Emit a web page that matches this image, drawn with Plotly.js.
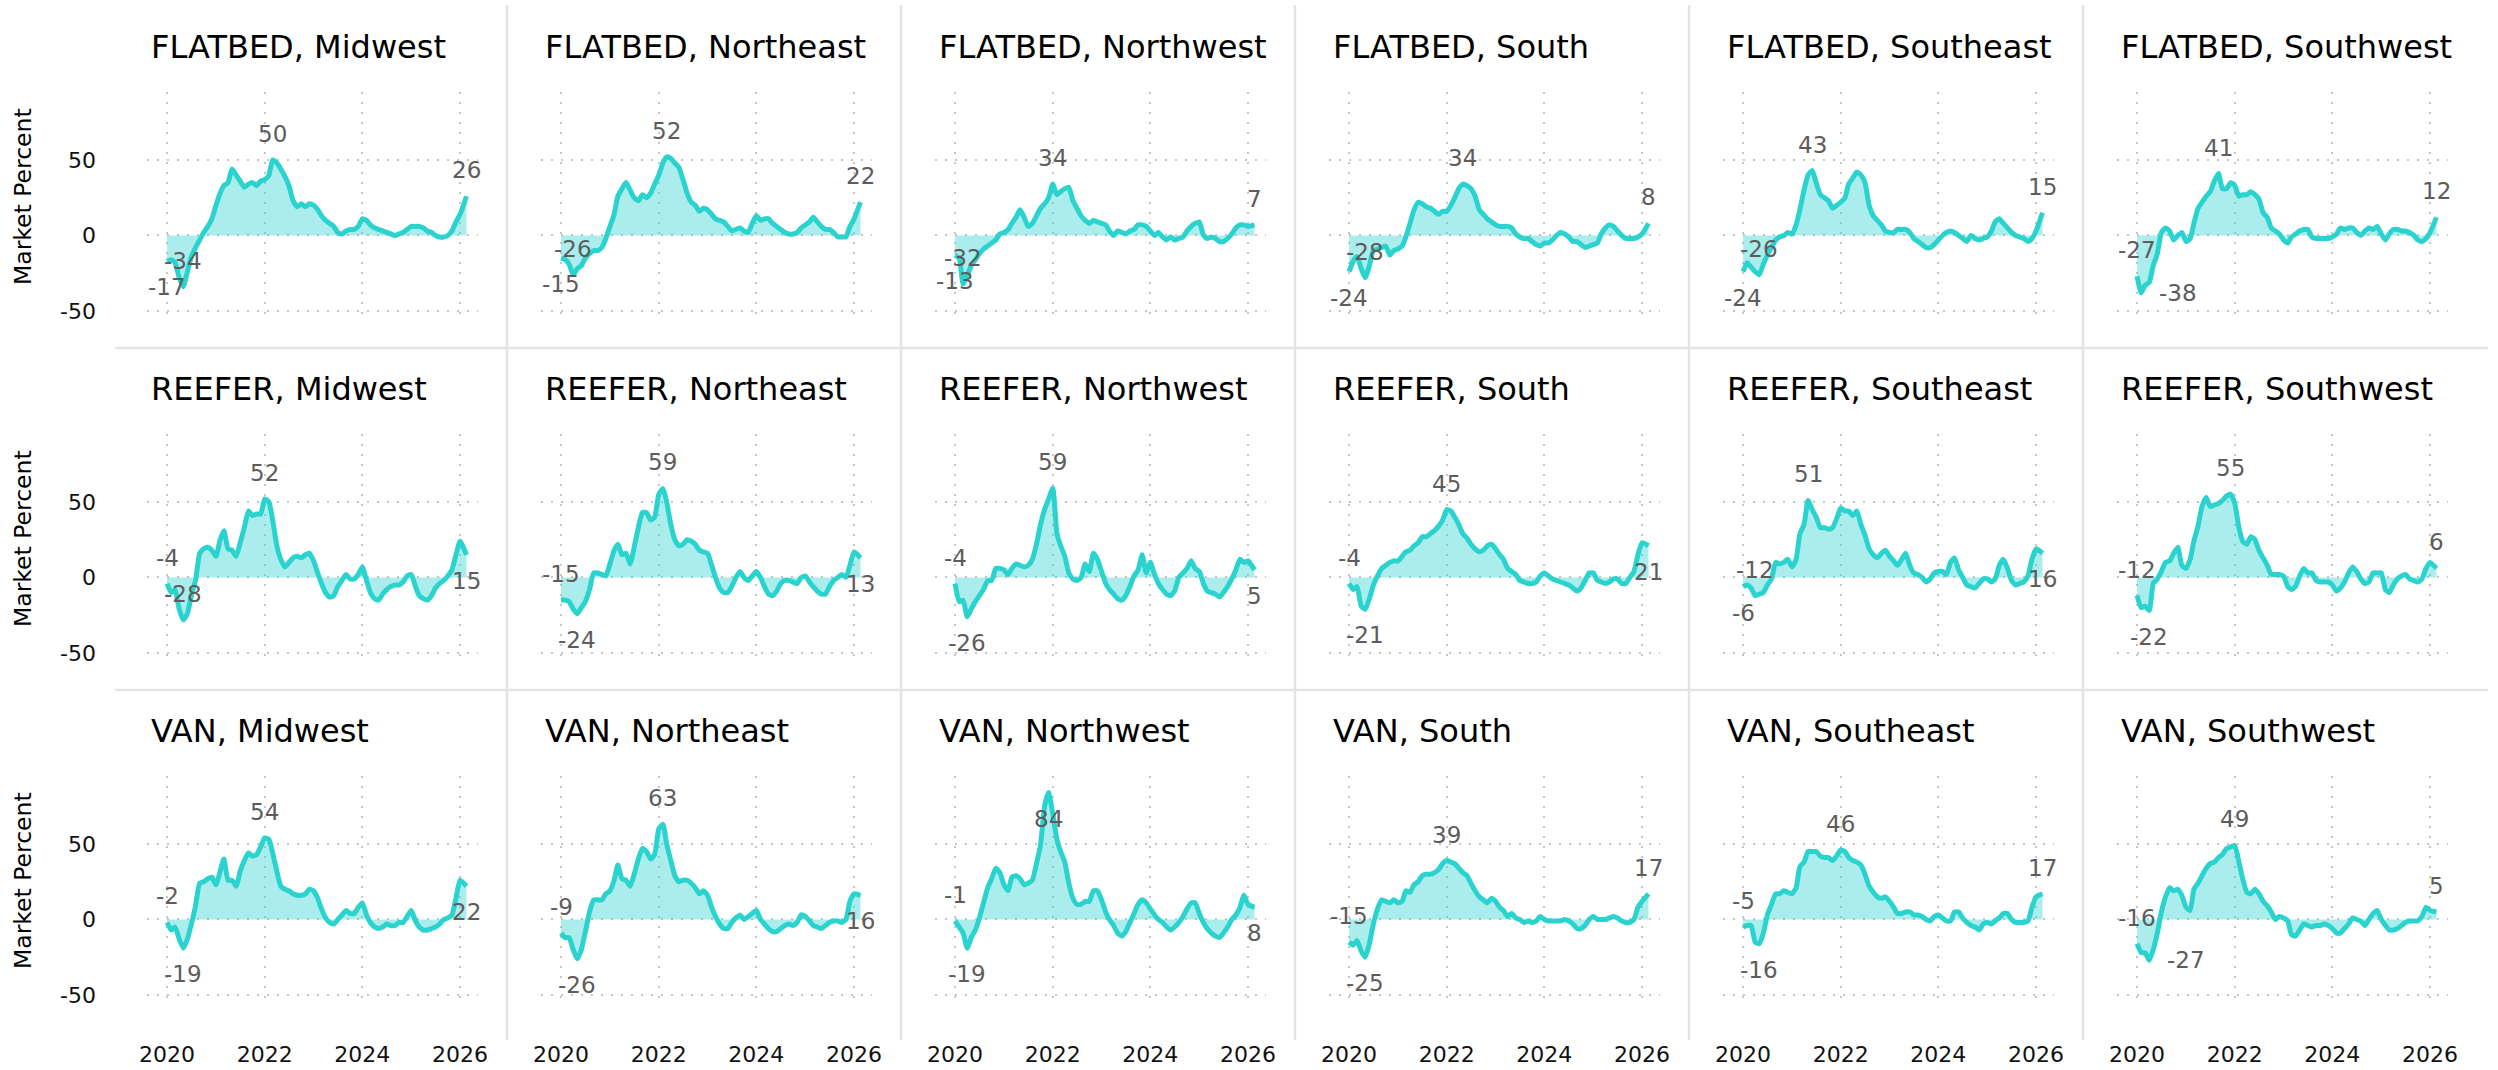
<!DOCTYPE html>
<html>
<head>
<meta charset="utf-8">
<script src="https://cdn.plot.ly/plotly-3.0.1.min.js"></script>
<style>
html,body{margin:0;padding:0;background:#ffffff;}
#chart{width:2498px;height:1070px;}
</style>
</head>
<body>
<div id="chart"></div>
<script>
// ---------------- DATA ----------------
const TRAILERS = ['FLATBED', 'REEFER', 'VAN'];
const REGIONS = ['Midwest', 'Northeast', 'Northwest', 'South', 'Southeast', 'Southwest'];
const X_TICK_VALUES = ['2020-01-01', '2022-01-01', '2024-01-01', '2026-01-01'];
const X_TICK_LABELS = ['2020', '2022', '2024', '2026'];
const Y_TICK_VALUES = [-50, 0, 50];
const Y_TICK_LABELS = ['-50', '0', '50'];
const Y_TITLE = 'Market Percent';
const FIRST_MONTH = '2020-01';
const MONTH_COUNT = 73;           // Jan 2020 .. Jan 2026, monthly
const LAST_DATE = '2026-02-18';   // latest observation

const FLATBED_MIDWEST = [-17,-16,-18,-28,-34,-24,-14,-8,-3,2, 6,11,20,28,33,35,44,40,36,32, 34,35,33,36,37,40,50,48,44,39, 33,23,19,21,19,21,20,17,13,10, 8,6,2,1,3,4,4,6,11,10, 7,5,4,3,2,1,0,1,2,4, 6,6,6,5,3,2,0,-1,-1,0, 3,9,14, 26];
const FLATBED_NORTHEAST = [-15,-16,-19,-26,-22,-20,-15,-12,-10,-10, -8,-2,6,14,26,31,35,30,25,23, 27,25,28,34,40,48,52,51,48,45, 37,28,22,20,16,18,17,14,11,10, 9,6,3,4,5,3,2,8,13,10, 11,11,8,6,4,2,1,1,2,5, 7,9,12,9,6,4,4,2,-1,-1, -1,6,11, 22];
const FLATBED_NORTHWEST = [-13,-15,-32,-26,-20,-16,-12,-9,-7,-5, -3,1,2,4,8,12,17,12,6,8, 13,18,21,25,34,27,29,31,32,23, 18,13,10,8,10,9,8,7,3,0, 3,2,1,3,4,7,7,6,3,0, 2,-1,-3,-1,-3,-2,-1,3,6,8, 9,0,-2,-1,-2,-4,-4,-2,1,5, 7,7,6, 7];
const FLATBED_SOUTH = [-24,-17,-14,-22,-28,-20,-10,-9,-8,-7, -13,-10,-9,-7,-1,8,17,22,21,19, 18,16,14,16,16,20,25,31,34,33, 31,26,17,14,11,9,7,6,6,6, 5,1,-1,-2,-2,-4,-6,-7,-5,-5, -3,0,2,1,-1,-4,-4,-6,-8,-7, -6,-5,1,5,7,6,3,0,-2,-2, -2,-1,1, 8];
const FLATBED_SOUTHEAST = [-24,-18,-21,-24,-26,-19,-13,-8,-3,-1, 0,2,1,7,17,30,40,43,35,27, 25,23,18,20,22,25,34,38,42,40, 35,20,13,10,7,3,2,2,4,4, 4,2,-2,-4,-6,-8,-8,-6,-3,0, 2,3,2,0,-2,-4,0,-2,-3,-2, -1,3,9,11,8,5,2,0,-1,-2, -4,-2,3, 15];
const FLATBED_SOUTHWEST = [-27,-38,-33,-31,-20,-12,2,5,3,-3, 0,2,-4,-2,8,18,22,26,29,36, 41,31,31,35,33,26,27,27,29,27, 24,15,12,5,3,1,-3,-5,-1,1, 3,4,4,-1,-2,-2,-2,-2,-1,1, 5,4,5,5,2,0,3,5,4,6, 1,-3,1,4,4,3,3,2,0,-3, -4,-2,2, 12];

const REEFER_MIDWEST = [-4,-10,-8,-21,-28,-24,-12,-2,16,19, 20,18,14,25,31,19,18,14,23,33, 44,41,42,42,52,50,38,21,12,7, 10,13,14,13,15,16,11,3,-4,-10, -13,-12,-6,-2,2,-1,-1,2,7,-2, -10,-14,-15,-11,-8,-6,-5,-5,-3,1, 2,-6,-12,-14,-15,-12,-7,-4,-2,1, 5,15,24, 15];
const REEFER_NORTHEAST = [-15,-15,-16,-21,-24,-20,-16,-8,3,3, 2,1,9,18,22,15,16,9,20,33, 43,43,38,40,55,59,50,35,25,21, 22,25,24,22,18,17,16,8,0,-7, -10,-10,-6,0,4,0,-2,1,4,0, -6,-11,-12,-9,-4,-2,-2,-3,-4,0, 1,-3,-6,-9,-11,-11,-6,-2,0,2, 0,8,17, 13];
const REEFER_NORTHWEST = [-4,-16,-15,-26,-21,-16,-12,-8,-2,-2, 6,6,5,2,6,9,8,7,8,12, 22,35,45,52,59,29,21,14,3,-1, -2,0,9,4,16,12,4,-4,-8,-11, -14,-15,-12,-6,1,5,15,3,10,2, -4,-8,-11,-12,-9,0,3,6,11,6, 4,-4,-9,-10,-11,-13,-10,-6,-1,5, 12,10,11, 5];
const REEFER_SOUTH = [-4,-8,-6,-19,-21,-14,-5,1,6,8, 10,11,11,14,17,18,21,23,27,27, 29,31,34,38,45,44,40,35,29,26, 22,19,17,18,21,22,19,15,12,6, 4,2,-2,-3,-4,-4,-3,1,3,1, -1,-2,-3,-4,-5,-7,-9,-7,-2,3, 3,-2,-3,-4,-3,-1,-1,-4,-4,0, 4,15,23, 21];
const REEFER_SOUTHEAST = [-6,-5,-7,-12,-11,-10,-5,-1,10,9, 10,12,7,12,29,35,51,45,40,33, 33,32,33,39,46,44,44,41,44,35, 28,19,15,13,16,18,14,11,8,12, 16,8,3,2,0,-3,-1,3,4,4, 2,10,13,5,0,-5,-6,-7,-4,-1, -1,-3,-1,8,12,6,-2,-5,-4,-3, 1,12,19, 16];
const REEFER_SOUTHWEST = [-12,-20,-19,-22,-4,-1,4,10,11,16, 20,8,6,12,24,34,47,53,47,48, 49,51,54,55,49,33,24,22,27,25, 18,13,8,2,2,2,1,-6,-8,-6, 1,6,3,3,-2,-3,-3,-3,-5,-9, -7,-3,3,7,4,-1,-4,-3,3,3, 3,-8,-10,-5,-1,1,2,-1,-2,-3, -1,6,10, 6];

const VAN_MIDWEST = [-2,-7,-5,-13,-19,-13,-3,9,24,25, 27,28,23,32,40,26,26,22,32,39, 44,42,43,48,54,53,44,32,22,20, 19,17,16,16,17,20,19,14,7,1, -2,-3,0,3,6,4,4,8,11,3, -2,-5,-6,-5,-3,-4,-4,-2,-2,2, 6,-1,-5,-7,-7,-6,-5,-3,0,1, 3,14,26, 22];
const VAN_NORTHEAST = [-9,-12,-12,-20,-26,-20,-8,5,13,13, 13,17,19,26,36,27,26,22,30,40, 47,45,40,43,60,63,50,39,29,25, 26,26,24,21,17,19,16,8,2,-3, -6,-6,-2,1,3,0,2,4,6,0, -3,-6,-8,-8,-6,-4,-3,-4,-2,3, 2,-1,-4,-5,-6,-4,-2,-1,-1,-2, 0,12,17, 16];
const VAN_NORTHWEST = [-1,-5,-9,-19,-12,-7,1,11,21,27, 34,31,23,19,28,29,27,23,24,26, 37,49,75,84,70,53,45,38,24,14, 10,10,12,12,19,19,13,5,0,-4, -9,-11,-8,-2,4,10,13,11,7,3, 0,-2,-5,-7,-5,-2,2,7,11,11, 4,-2,-6,-9,-11,-12,-9,-5,0,3, 8,16,10, 8];
const VAN_SOUTH = [-15,-17,-14,-21,-25,-16,-3,7,13,12, 11,13,11,12,19,18,23,25,29,30, 30,31,33,37,39,38,37,34,31,29, 24,19,15,13,11,14,12,8,6,2, 4,1,0,-2,-1,-2,-1,2,0,-1, -1,-1,-1,0,-1,-3,-6,-6,-4,0, 2,0,0,0,1,2,1,-1,-2,-2, 0,8,12, 17];
const VAN_SOUTHEAST = [-5,-4,-4,-15,-16,-9,3,10,17,17, 19,18,17,21,35,38,45,45,45,42, 41,41,39,42,46,45,41,39,38,36, 30,22,18,15,14,15,12,8,4,4, 5,5,3,3,2,0,-1,2,3,1, -1,-1,5,5,1,-2,-4,-5,-7,-3, -2,-3,-1,1,4,4,0,-2,-2,-2, -1,8,15, 17];
const VAN_SOUTHWEST = [-16,-22,-22,-27,-20,-9,5,15,21,19, 20,16,8,6,20,24,29,34,37,38, 41,43,47,48,49,38,27,18,17,20, 17,12,9,5,0,2,1,-1,-10,-11, -7,-3,-4,-5,-4,-4,-3,-4,-6,-9, -9,-6,-3,1,0,-1,-4,0,4,6, 0,-4,-7,-7,-6,-4,-2,-1,-1,-1, 2,8,6, 5];

const SERIES = {
  FLATBED: [FLATBED_MIDWEST, FLATBED_NORTHEAST, FLATBED_NORTHWEST, FLATBED_SOUTH, FLATBED_SOUTHEAST, FLATBED_SOUTHWEST],
  REEFER: [REEFER_MIDWEST, REEFER_NORTHEAST, REEFER_NORTHWEST, REEFER_SOUTH, REEFER_SOUTHEAST, REEFER_SOUTHWEST],
  VAN: [VAN_MIDWEST, VAN_NORTHEAST, VAN_NORTHWEST, VAN_SOUTH, VAN_SOUTHEAST, VAN_SOUTHWEST]
};

// ---------------- STYLE ----------------
// label placement for [first, min, max, last]: a = above, b = below, r = right
const LABEL_PLACEMENT = {
  FLATBED: ['baaa', 'baaa', 'baaa', 'baaa', 'baaa', 'araa'],
  REEFER:  ['aaab', 'abab', 'abab', 'abab', 'baab', 'abaa'],
  VAN:     ['abab', 'abab', 'abbb', 'abaa', 'abaa', 'araa']
};
const W = 2498, H = 1070;
const FONT = 'DejaVu Sans, Verdana, sans-serif';
const LINE_COLOR = '#2bd3cf';
const FILL_COLOR = 'rgba(43,211,207,0.40)';
const GRID_COLOR = '#c6c6c6';
const SEP_COLOR = '#e4e4e4';
const LABEL_COLOR = '#5c5c5c';

// panel geometry in pixels
const FRAME_LEFT = 115, COL_W = 394, ROW_H = 342;
const PLOT_X0 = 32, PLOT_X1 = 363;
const PLOT_TOP = 92, PLOT_BOTTOM = 314;

function pad2(n) { return (n < 10 ? '0' : '') + n; }
const DATES = [];
(function () {
  const y0 = +FIRST_MONTH.slice(0, 4), m0 = +FIRST_MONTH.slice(5, 7) - 1;
  for (let k = 0; k < MONTH_COUNT; k++) {
    const t = m0 + k;
    DATES.push((y0 + Math.floor(t / 12)) + '-' + pad2(t % 12 + 1) + '-01');
  }
  DATES.push(LAST_DATE);
})();

const traces = [];
const layout = {
  width: W, height: H, autosize: false,
  margin: {l: 0, r: 0, t: 0, b: 0, pad: 0},
  paper_bgcolor: '#ffffff', plot_bgcolor: 'rgba(0,0,0,0)',
  showlegend: false,
  font: {family: FONT, color: '#000000', size: 22},
  annotations: [], shapes: []
};

function px2x(p) { return p / W; }
function px2y(p) { return 1 - p / H; }

TRAILERS.forEach(function (tr, r) {
  REGIONS.forEach(function (rg, c) {
    const i = r * 6 + c + 1;
    const xs = i === 1 ? '' : String(i);
    const vals = SERIES[tr][c];
    traces.push({
      type: 'scatter', mode: 'lines', x: DATES, y: vals,
      xaxis: 'x' + xs, yaxis: 'y' + xs,
      fill: 'tozeroy', fillcolor: FILL_COLOR,
      line: {color: LINE_COLOR, width: 5, shape: 'spline', smoothing: 0.5},
      hoverinfo: 'skip'
    });
    const left = FRAME_LEFT + COL_W * c;
    const top = ROW_H * r;
    layout['xaxis' + xs] = {
      domain: [px2x(left + PLOT_X0), px2x(left + PLOT_X1)],
      anchor: 'y' + xs, type: 'date',
      range: ['2019-08-04', '2026-05-15'],
      tickmode: 'array', tickvals: X_TICK_VALUES, ticktext: X_TICK_LABELS,
      showticklabels: r === 2, ticks: '', ticklabelstandoff: 41,
      tickfont: {family: FONT, size: 22, color: '#111111'},
      showgrid: true, gridcolor: GRID_COLOR, gridwidth: 2, griddash: '2px,8px',
      zeroline: false, showline: false, fixedrange: true
    };
    layout['yaxis' + xs] = {
      domain: [px2y(top + PLOT_BOTTOM), px2y(top + PLOT_TOP)],
      anchor: 'x' + xs, range: [-52, 95],
      tickmode: 'array', tickvals: Y_TICK_VALUES, ticktext: Y_TICK_LABELS,
      showticklabels: c === 0, ticks: '', ticklabelstandoff: 50,
      tickfont: {family: FONT, size: 22, color: '#111111'},
      showgrid: true, gridcolor: GRID_COLOR, gridwidth: 2, griddash: '2px,8px',
      zeroline: false, showline: false, fixedrange: true
    };
    // panel title
    layout.annotations.push({
      xref: 'paper', yref: 'paper', x: px2x(left + 34), y: px2y(top + 47),
      xanchor: 'left', yanchor: 'middle', showarrow: false,
      text: tr + ', ' + rg, font: {family: FONT, size: 32, color: '#000000'}
    });
    // value labels: first, min, max, last
    let iMin = 0, iMax = 0;
    vals.forEach(function (v, k) {
      if (v < vals[iMin]) iMin = k;
      if (v > vals[iMax]) iMax = k;
    });
    const idxs = [0, iMin, iMax, vals.length - 1];
    const place = LABEL_PLACEMENT[tr][c];
    idxs.forEach(function (k, j) {
      const p = place[j];
      layout.annotations.push({
        xref: 'x' + xs, yref: 'y' + xs, x: DATES[k], y: vals[k],
        text: String(vals[k]), showarrow: false,
        xanchor: 'center', yanchor: 'middle',
        xshift: p === 'r' ? 37 : 0,
        yshift: p === 'a' ? 26 : (p === 'b' ? -26 : 0),
        font: {family: FONT, size: 23, color: LABEL_COLOR}
      });
    });
  });
  // y-axis title per row
  layout.annotations.push({
    xref: 'paper', yref: 'paper', x: px2x(23), y: px2y(ROW_H * r + 197),
    xanchor: 'center', yanchor: 'middle', showarrow: false, textangle: -90,
    text: Y_TITLE, font: {family: FONT, size: 23.5, color: '#000000'}
  });
});

// panel separators
[1, 2, 3, 4, 5].forEach(function (c) {
  const x = FRAME_LEFT + COL_W * c - 2;
  layout.shapes.push({type: 'line', xref: 'paper', yref: 'paper',
    x0: px2x(x), x1: px2x(x), y0: px2y(5), y1: px2y(1040),
    line: {color: SEP_COLOR, width: 2.5}});
});
[1, 2].forEach(function (r) {
  const y = ROW_H * r + 6;
  layout.shapes.push({type: 'line', xref: 'paper', yref: 'paper',
    x0: px2x(FRAME_LEFT), x1: px2x(2488), y0: px2y(y), y1: px2y(y),
    line: {color: SEP_COLOR, width: 2.5}});
});

Plotly.newPlot('chart', traces, layout, {displayModeBar: false, staticPlot: true});
</script>
</body>
</html>
